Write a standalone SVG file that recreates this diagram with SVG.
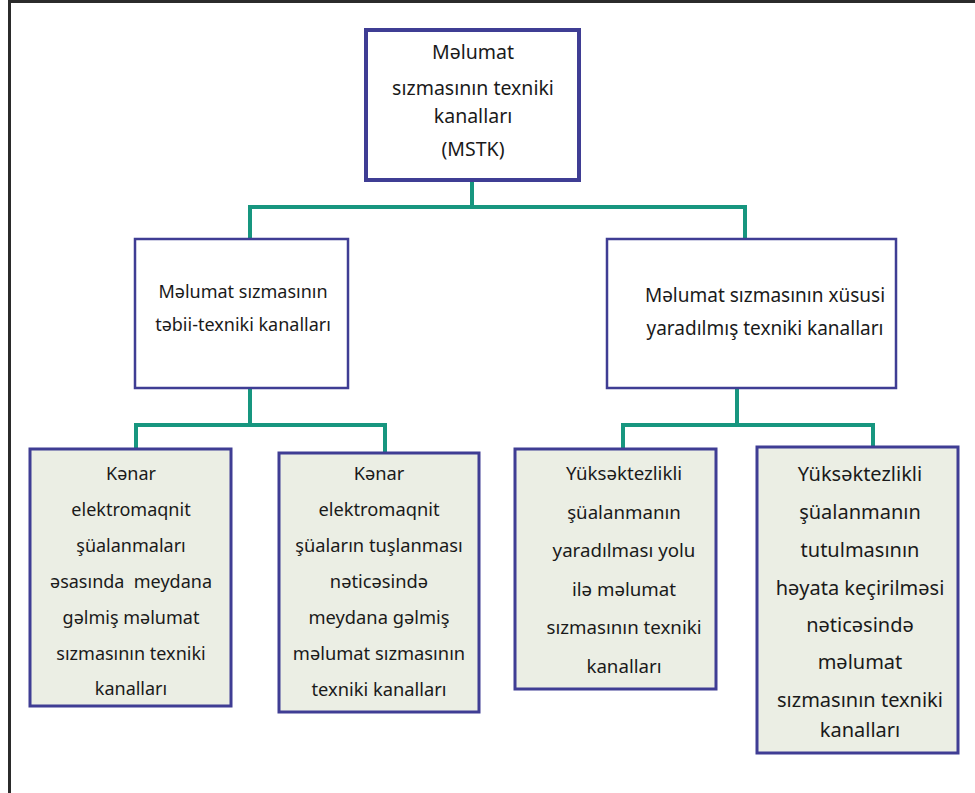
<svg xmlns="http://www.w3.org/2000/svg" width="975" height="793" viewBox="0 0 975 793">
<style>
.t{font-family:"Noto Sans","Open Sans","DejaVu Sans",sans-serif;fill:#1a1a1a;text-anchor:middle}
.box{fill:#fff;stroke:#3f3d94}
.leaf{fill:#ebeee4;stroke:#3f3d94;stroke-width:3}
.con{fill:none;stroke:#17967f;stroke-width:4}
</style>
<rect width="975" height="793" fill="#fff"/>
<path d="M9.5,793 V1.5 H975" fill="none" stroke="#2b2b2b" stroke-width="3"/>
<g id="connectors">
<path class="con" d="M472,182 V207 M250,239 V207 H745 V239"/>
<path class="con" d="M250,388 V425 M136,449 V425 H385 V453"/>
<path class="con" d="M737,388 V425 M623,449 V425 H873 V447"/>
</g>
<g id="root">
<rect class="box" x="366" y="30" width="213" height="150" stroke-width="4"/>
<text class="t" font-size="19.5"><tspan x="473" y="59">Məlumat</tspan><tspan x="473" y="95">sızmasının texniki</tspan><tspan x="473" y="123">kanalları</tspan><tspan x="473" y="156">(MSTK)</tspan></text>
</g>
<g id="natural">
<rect class="box" x="135" y="239" width="213" height="149" stroke-width="2.5"/>
<text class="t" font-size="18"><tspan x="243" y="298">Məlumat sızmasının</tspan><tspan x="243" y="331">təbii-texniki kanalları</tspan></text>
</g>
<g id="special">
<rect class="box" x="607" y="239" width="289" height="149" stroke-width="2.5"/>
<text class="t" font-size="19"><tspan x="765" y="302">Məlumat sızmasının xüsusi</tspan><tspan x="765" y="335">yaradılmış texniki kanalları</tspan></text>
</g>
<g id="leaf1">
<rect class="leaf" x="30" y="449" width="201" height="257"/>
<text class="t" font-size="18"><tspan x="131" y="480">Kənar</tspan><tspan x="131" y="516">elektromaqnit</tspan><tspan x="131" y="552">şüalanmaları</tspan><tspan x="131" y="588">əsasında&#160; meydana</tspan><tspan x="131" y="624">gəlmiş məlumat</tspan><tspan x="131" y="660">sızmasının texniki</tspan><tspan x="131" y="695">kanalları</tspan></text>
</g>
<g id="leaf2">
<rect class="leaf" x="279" y="453" width="200" height="259"/>
<text class="t" font-size="18.3"><tspan x="379" y="480">Kənar</tspan><tspan x="379" y="516">elektromaqnit</tspan><tspan x="379" y="552">şüaların tuşlanması</tspan><tspan x="379" y="588">nəticəsində</tspan><tspan x="379" y="624">meydana gəlmiş</tspan><tspan x="379" y="660">məlumat sızmasının</tspan><tspan x="379" y="696">texniki kanalları</tspan></text>
</g>
<g id="leaf3">
<rect class="leaf" x="515" y="449" width="201" height="240"/>
<text class="t" font-size="18.7"><tspan x="624" y="480">Yüksəktezlikli</tspan><tspan x="624" y="519">şüalanmanın</tspan><tspan x="624" y="557">yaradılması yolu</tspan><tspan x="624" y="596">ilə məlumat</tspan><tspan x="624" y="634">sızmasının texniki</tspan><tspan x="624" y="673">kanalları</tspan></text>
</g>
<g id="leaf4">
<rect class="leaf" x="757" y="447" width="201" height="306"/>
<text class="t" font-size="20"><tspan x="860" y="481">Yüksəktezlikli</tspan><tspan x="860" y="519">şüalanmanın</tspan><tspan x="860" y="557">tutulmasının</tspan><tspan x="860" y="595">həyata keçirilməsi</tspan><tspan x="860" y="632">nəticəsində</tspan><tspan x="860" y="669">məlumat</tspan><tspan x="860" y="707">sızmasının texniki</tspan><tspan x="860" y="737">kanalları</tspan></text>
</g>
</svg>
